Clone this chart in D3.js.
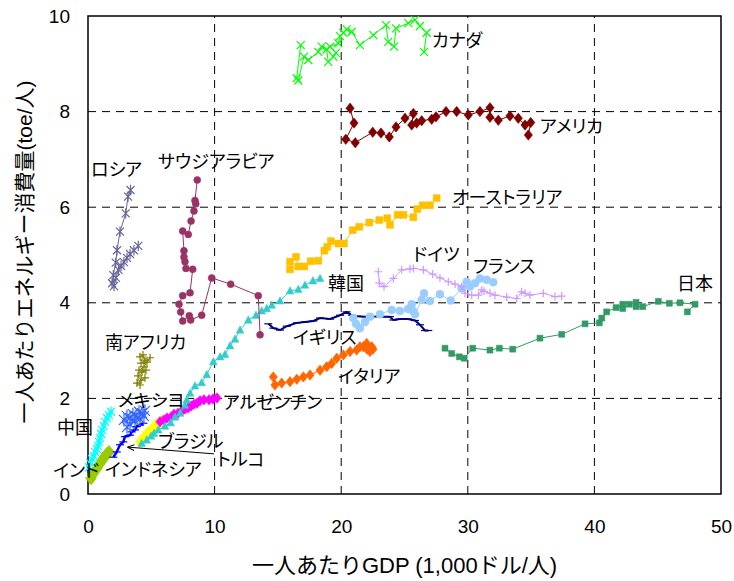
<!DOCTYPE html>
<html>
<head>
<meta charset="utf-8">
<script src="https://cdn.jsdelivr.net/npm/d3@7"></script>
<style>
  body { margin: 0; background: #fff; }
  svg { display: block; }
  text { font-family: "Liberation Sans", Arial, "Noto Sans CJK JP", sans-serif; }
  .country { font-family: "Noto Sans CJK JP", sans-serif; font-feature-settings: "palt"; }
</style>
</head>
<body>
<svg id="chart"></svg>
<script>
const width = 734;
const height = 581;
const margin = { top: 16, right: 13, bottom: 87, left: 88 };

// per-capita GDP (1,000 $) , energy use (toe)
const canada = [[16.80, 9.39], [16.48, 8.70], [16.61, 8.65], [17.06, 9.15], [17.40, 9.08], [18.19, 9.25], [18.46, 9.36], [18.85, 9.30], [18.98, 9.04], [19.38, 9.15], [19.59, 9.23], [19.12, 9.36], [19.77, 9.43], [19.91, 9.58], [20.17, 9.65], [20.43, 9.72], [20.83, 9.67], [21.48, 9.39], [22.54, 9.60], [23.54, 9.81], [23.72, 9.46], [24.17, 9.36], [24.33, 9.74], [25.30, 9.85], [25.83, 9.92], [26.22, 9.79], [26.75, 9.65], [26.54, 9.25]];
const usa = [[20.70, 8.07], [21.01, 7.76], [20.36, 7.42], [21.11, 7.35], [22.49, 7.57], [23.14, 7.55], [23.80, 7.47], [24.33, 7.68], [25.04, 7.86], [25.70, 7.96], [25.57, 7.72], [25.96, 7.76], [26.36, 7.81], [27.15, 7.84], [27.49, 7.89], [28.28, 8.00], [29.12, 8.00], [30.04, 7.93], [30.96, 8.00], [31.75, 8.08], [31.75, 7.88], [32.41, 7.82], [33.33, 7.91], [33.99, 7.86], [34.52, 7.72], [34.97, 7.77], [34.78, 7.51]];
const australia = [[15.96, 4.70], [15.96, 4.86], [16.43, 4.96], [16.61, 4.76], [17.09, 4.76], [17.59, 4.87], [18.19, 4.88], [18.67, 5.09], [18.90, 5.17], [19.19, 5.29], [19.77, 5.24], [20.22, 5.24], [20.91, 5.52], [21.43, 5.59], [22.22, 5.68], [23.01, 5.73], [23.64, 5.77], [23.85, 5.63], [24.46, 5.84], [24.91, 5.84], [25.70, 5.79], [26.01, 5.96], [26.44, 6.04], [27.01, 6.04], [27.54, 6.19]];
const russia = [[3.36, 6.36], [3.16, 6.22], [2.98, 5.87], [2.53, 5.49], [2.29, 5.10], [2.19, 4.84], [2.00, 4.58], [1.90, 4.41], [2.05, 4.35], [2.21, 4.52], [2.41, 4.69], [2.61, 4.77], [2.84, 4.85], [3.08, 4.94], [3.32, 5.02], [3.63, 5.10], [3.97, 5.19]];
const saudi = [[8.63, 6.57], [8.45, 6.14], [8.51, 6.07], [8.37, 5.92], [8.14, 5.71], [7.92, 5.43], [7.48, 5.50], [7.58, 5.09], [7.58, 4.96], [7.66, 4.86], [7.74, 4.72], [8.27, 4.70], [8.06, 4.21], [7.48, 4.15], [7.19, 3.97], [7.32, 3.81], [7.48, 3.62], [8.00, 3.73], [8.11, 3.64], [8.98, 3.74], [9.77, 4.52], [11.27, 4.39], [13.45, 4.15], [13.59, 3.33]];
const korea = [[4.24, 1.06], [4.64, 1.13], [4.98, 1.21], [5.21, 1.27], [5.55, 1.34], [6.08, 1.42], [6.53, 1.49], [6.87, 1.61], [7.27, 1.69], [7.66, 1.86], [7.80, 1.97], [8.06, 2.11], [8.45, 2.26], [8.98, 2.33], [9.38, 2.50], [9.90, 2.77], [10.43, 2.87], [10.82, 2.92], [11.22, 3.10], [11.61, 3.24], [12.01, 3.43], [12.66, 3.64], [13.27, 3.74], [13.72, 3.83], [14.12, 3.88], [14.51, 3.95], [15.17, 4.04], [15.96, 4.25], [16.61, 4.28], [17.14, 4.37], [17.77, 4.46], [18.33, 4.51]];
const uk = [[14.24, 3.56], [14.64, 3.47], [15.17, 3.43], [15.70, 3.51], [16.49, 3.58], [17.14, 3.60], [17.80, 3.62], [18.33, 3.68], [19.12, 3.66], [19.91, 3.74], [20.43, 3.81], [20.85, 3.74], [21.22, 3.72], [21.88, 3.71], [22.54, 3.72], [23.22, 3.71], [23.85, 3.71], [24.12, 3.64], [24.64, 3.66], [25.28, 3.66], [25.83, 3.63], [26.22, 3.54], [26.62, 3.42], [26.88, 3.42]];
const italy = [[14.64, 2.45], [14.77, 2.28], [15.30, 2.32], [15.96, 2.35], [16.49, 2.40], [17.01, 2.45], [17.54, 2.49], [18.33, 2.59], [18.85, 2.66], [19.25, 2.73], [19.65, 2.84], [20.17, 2.91], [20.70, 2.98], [21.22, 3.01], [21.48, 3.08], [21.75, 3.08], [22.01, 3.15], [22.41, 3.08], [22.27, 2.98], [22.04, 3.03], [22.51, 3.03]];
const germany = [[22.93, 4.65], [23.01, 4.41], [23.38, 4.34], [24.12, 4.51], [24.78, 4.69], [25.43, 4.71], [25.70, 4.72], [26.49, 4.69], [27.23, 4.60], [27.80, 4.52], [28.46, 4.44], [28.99, 4.39], [29.52, 4.34], [29.78, 4.20], [30.31, 4.16], [30.83, 4.16], [31.10, 4.27], [31.28, 4.24], [31.75, 4.20], [32.15, 4.16], [33.07, 4.12], [33.86, 4.09], [34.26, 4.23], [34.52, 4.20], [34.91, 4.16], [35.96, 4.20], [36.89, 4.13], [37.42, 4.14]];
const france = [[20.96, 3.68], [21.17, 3.56], [21.48, 3.47], [21.88, 3.60], [22.27, 3.71], [23.06, 3.76], [23.99, 3.85], [24.64, 3.83], [25.28, 3.87], [25.57, 3.97], [25.67, 3.83], [25.83, 3.76], [26.36, 4.06], [26.54, 4.20], [27.01, 4.04], [27.80, 4.18], [28.65, 4.05], [29.52, 4.30], [29.91, 4.44], [30.17, 4.34], [30.57, 4.41], [30.96, 4.51], [31.49, 4.48], [32.01, 4.43]];
const japan = [[28.20, 3.05], [28.73, 2.94], [29.33, 2.87], [29.72, 2.84], [30.39, 3.05], [31.75, 3.01], [32.49, 3.05], [33.55, 3.03], [35.70, 3.26], [37.42, 3.34], [39.26, 3.56], [40.39, 3.58], [40.58, 3.68], [40.97, 3.81], [41.71, 3.90], [42.24, 3.97], [42.24, 3.88], [42.76, 3.97], [43.29, 4.01], [43.29, 3.92], [43.82, 3.92], [45.05, 4.03], [45.92, 3.99], [46.76, 4.00], [47.95, 3.97], [47.34, 3.81]];
const southAfrica = [[4.11, 2.87], [4.34, 2.91], [4.50, 2.80], [4.19, 2.74], [4.66, 2.76], [4.90, 2.85], [4.42, 2.66], [4.03, 2.59], [4.27, 2.55], [4.58, 2.59], [3.95, 2.47], [4.19, 2.38], [4.50, 2.43], [3.87, 2.32], [4.11, 2.28]];
const mexico = [[2.84, 1.55], [3.08, 1.63], [3.32, 1.59], [3.55, 1.67], [3.79, 1.63], [4.03, 1.72], [4.27, 1.69], [4.50, 1.74], [4.42, 1.63], [4.11, 1.57], [3.71, 1.53], [3.32, 1.46], [3.08, 1.40]];
const argentina = [[5.69, 1.51], [6.00, 1.55], [6.24, 1.59], [6.56, 1.61], [6.79, 1.67], [7.11, 1.69], [7.42, 1.74], [7.66, 1.78], [7.90, 1.80], [8.14, 1.84], [8.37, 1.88], [8.61, 1.90], [8.85, 1.95], [9.16, 1.97], [9.56, 1.97], [9.87, 1.99], [10.19, 2.01]];
const brazil = [[4.11, 1.09], [4.27, 1.13], [4.42, 1.19], [4.58, 1.23], [4.74, 1.28], [4.90, 1.32], [5.06, 1.36], [5.21, 1.40], [5.37, 1.44], [5.53, 1.46], [5.69, 1.51], [5.85, 1.53]];
const turkey = [[2.00, 0.77], [2.27, 0.88], [2.53, 1.03], [2.79, 1.09], [2.92, 1.20], [3.32, 1.23], [3.45, 1.30], [3.71, 1.34], [3.85, 1.41], [4.11, 1.44], [4.37, 1.48]];
const china = [[0.08, 0.56], [0.16, 0.65], [0.32, 0.73], [0.47, 0.79], [0.55, 0.88], [0.71, 0.94], [0.79, 1.00], [0.87, 1.09], [0.95, 1.17], [1.03, 1.26], [1.11, 1.34], [1.26, 1.42], [1.34, 1.51], [1.50, 1.59], [1.66, 1.65], [1.82, 1.72]];
const indonesia = [[0.24, 0.33], [0.39, 0.42], [0.55, 0.48], [0.71, 0.54], [0.87, 0.61], [1.03, 0.67], [1.18, 0.73], [1.34, 0.79], [1.50, 0.84], [1.66, 0.88]];
const india = [[0.30, 0.30], [0.36, 0.34], [0.42, 0.37], [0.48, 0.41], [0.55, 0.45], [0.62, 0.49], [0.70, 0.53], [0.78, 0.57]];

const xTicks = [0, 10, 20, 30, 40, 50];
const yTicks = [0, 2, 4, 6, 8, 10];

const series = [
  { data: india, color: '#ff0000', marker: 'square', size: 4 },
  { data: indonesia, color: '#99cc00', marker: 'diamond', size: 9 },
  { data: china, color: '#00ffff', marker: 'star', size: 4 },
  { data: turkey, color: '#0000ff', marker: 'dash', size: 4, lw: 2.5 },
  { data: mexico, color: '#3366ff', marker: 'star', size: 5 },
  { data: brazil, color: '#ffff00', marker: 'diamond', size: 8 },
  { data: argentina, color: '#ff00ff', marker: 'diamond', size: 7 },
  { data: korea, color: '#33cccc', marker: 'triangle', size: 7 },
  { data: southAfrica, color: '#808000', marker: 'plus', size: 4 },
  { data: russia, color: '#666699', marker: 'star', size: 4 },
  { data: saudi, color: '#993366', marker: 'circle', size: 3.5 },
  { data: italy, color: '#ff6600', marker: 'diamond', size: 7 },
  { data: uk, color: '#000080', marker: 'dash', size: 4, lw: 2 },
  { data: france, color: '#99ccff', marker: 'circle', size: 4 },
  { data: germany, color: '#cc99ff', marker: 'plus', size: 4 },
  { data: japan, color: '#339966', marker: 'square', size: 6 },
  { data: australia, color: '#ffc000', marker: 'square', size: 7 },
  { data: usa, color: '#800000', marker: 'diamond', size: 7 },
  { data: canada, color: '#00ff00', marker: 'x', size: 4 }
];

// country names with label anchor (data units)
const labelNames = ['カナダ', 'アメリカ', 'オーストラリア', 'サウジアラビア', 'ロシア', 'ドイツ', 'フランス', '日本', '韓国', 'イギリス', 'イタリア', '南アフリカ', 'メキシヨ', 'アルゼンチン', '中国', 'ブラジル', 'トルコ', 'インドネシア', 'インド'];
const labelAt = [[27.17, 9.48], [35.70, 7.68], [28.75, 6.19], [5.53, 6.95], [0.24, 6.78], [25.67, 5.00], [30.41, 4.75], [46.52, 4.41], [18.96, 4.41], [16.19, 3.26], [19.75, 2.45], [1.34, 3.16], [2.37, 1.95], [10.66, 1.90], [-2.45, 1.38], [5.53, 1.09], [10.19, 0.71], [1.34, 0.50], [-2.76, 0.48]];

const svg = d3.select('#chart')
  .attr('width', width)
  .attr('height', height);

const xScale = d3.scaleLinear()
  .domain([0, 50])
  .range([margin.left, width - margin.right]);

const yScale = d3.scaleLinear()
  .domain([0, 10])
  .range([height - margin.bottom, margin.top]);

// grid
svg.append('g')
  .selectAll('line')
  .data(xTicks.slice(1, -1))
  .enter()
  .append('line')
  .attr('x1', d => xScale(d)).attr('x2', d => xScale(d))
  .attr('y1', yScale(0)).attr('y2', yScale(10))
  .attr('stroke', '#000')
  .attr('stroke-dasharray', '8,6');

svg.append('g')
  .selectAll('line')
  .data(yTicks.slice(1, -1))
  .enter()
  .append('line')
  .attr('y1', d => yScale(d)).attr('y2', d => yScale(d))
  .attr('x1', xScale(0)).attr('x2', xScale(50))
  .attr('stroke', '#000')
  .attr('stroke-dasharray', '8,6');

// frame
svg.append('rect')
  .attr('x', xScale(0))
  .attr('y', yScale(10))
  .attr('width', xScale(50) - xScale(0))
  .attr('height', yScale(0) - yScale(10))
  .attr('fill', 'none')
  .attr('stroke', '#000')
  .attr('stroke-width', 1.5);

// axes
const xAxis = svg.append('g')
  .attr('transform', `translate(0, ${yScale(0)})`)
  .call(d3.axisBottom(xScale).tickValues(xTicks).tickSize(0).tickPadding(26));
xAxis.select('.domain').remove();
xAxis.selectAll('text').style('font-size', '19px').attr('fill', '#000');

const yAxis = svg.append('g')
  .attr('transform', `translate(${xScale(0)}, 0)`)
  .call(d3.axisLeft(yScale).tickValues(yTicks).tickSize(0).tickPadding(18));
yAxis.select('.domain').remove();
yAxis.selectAll('text').style('font-size', '19px').attr('fill', '#000');

// marker shapes
function markerPath(type, s) {
  if (type === 'x') return `M${-s},${-s}L${s},${s}M${-s},${s}L${s},${-s}`;
  if (type === 'plus') return `M${-s},0H${s}M0,${-s}V${s}`;
  if (type === 'star') return `M${-s},${-s}L${s},${s}M${-s},${s}L${s},${-s}M0,${-s * 1.3}V${s * 1.3}`;
  if (type === 'dash') return `M${-s},0H${s}`;
  if (type === 'diamond') return `M0,${-s * 0.75}L${s * 0.6},0L0,${s * 0.75}L${-s * 0.6},0Z`;
  if (type === 'square') return `M${-s / 2},${-s / 2}h${s}v${s}h${-s}Z`;
  if (type === 'triangle') return `M0,${-s * 0.6}L${s * 0.55},${s * 0.45}L${-s * 0.55},${s * 0.45}Z`;
  if (type === 'circle') return `M${s},0A${s},${s} 0 1,1 ${-s},0A${s},${s} 0 1,1 ${s},0Z`;
}
const openMarkers = ['x', 'plus', 'star', 'dash'];

const line = d3.line()
  .x(d => xScale(d[0]))
  .y(d => yScale(d[1]));

series.forEach(s => {
  const g = svg.append('g');
  g.append('path')
    .attr('d', line(s.data))
    .attr('fill', 'none')
    .attr('stroke', s.color)
    .attr('stroke-width', s.lw || 1);

  const open = openMarkers.includes(s.marker);
  g.selectAll('path.m')
    .data(s.data)
    .enter()
    .append('path')
    .attr('class', 'm')
    .attr('transform', d => `translate(${xScale(d[0])}, ${yScale(d[1])})`)
    .attr('d', markerPath(s.marker, s.size))
    .attr('fill', open ? 'none' : s.color)
    .attr('stroke', s.color)
    .attr('stroke-width', open ? 1.2 : 0.5);
});

// country labels
svg.append('g')
  .selectAll('text')
  .data(labelNames)
  .enter()
  .append('text')
  .attr('class', 'country')
  .attr('x', (d, i) => xScale(labelAt[i][0]))
  .attr('y', (d, i) => yScale(labelAt[i][1]))
  .attr('dy', '0.35em')
  .style('font-size', '18px')
  .attr('fill', '#000')
  .text(d => d);

// arrow to Turkey
svg.append('defs').append('marker')
  .attr('id', 'arrow')
  .attr('viewBox', '0 0 10 10')
  .attr('refX', 9).attr('refY', 5)
  .attr('markerWidth', 7).attr('markerHeight', 7)
  .attr('orient', 'auto')
  .append('path')
  .attr('d', 'M0,1L10,5L0,9')
  .attr('fill', 'none')
  .attr('stroke', '#000')
  .attr('stroke-width', 1.5);

svg.append('line')
  .attr('x1', xScale(9.95)).attr('y1', yScale(0.84))
  .attr('x2', xScale(3.16)).attr('y2', yScale(0.98))
  .attr('stroke', '#000')
  .attr('stroke-width', 1)
  .attr('marker-end', 'url(#arrow)');

// axis titles
svg.append('text')
  .attr('x', (xScale(0) + xScale(50)) / 2)
  .attr('y', 565)
  .attr('dy', '0.35em')
  .attr('text-anchor', 'middle')
  .style('font-size', '22px')
  .text('一人あたりGDP (1,000ドル/人)');

svg.append('text')
  .attr('transform', `translate(25, ${(yScale(0) + yScale(10)) / 2 - 3}) rotate(-90)`)
  .attr('dy', '0.35em')
  .attr('text-anchor', 'middle')
  .style('font-size', '21px')
  .text('一人あたりエネルギー消費量(toe/人)');
</script>
</body>
</html>
